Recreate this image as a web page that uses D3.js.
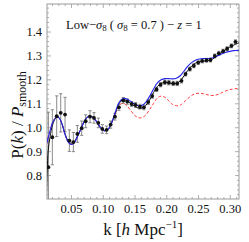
<!DOCTYPE html>
<html>
<head>
<meta charset="utf-8">
<script src="https://cdn.jsdelivr.net/npm/d3@7"></script>
<style>
body { margin: 0; background: white; }
svg { display: block; font-family: "Liberation Serif", "DejaVu Serif", serif; }
</style>
</head>
<body>
<svg id="vis" width="249" height="242"></svg>
<script>
var vis = d3.select("#vis");

// measured points (k, ratio, error)
var kData = [0.0144, 0.0206, 0.0275, 0.0338, 0.0406, 0.0474, 0.0537, 0.0600, 0.0668, 0.0731,
    0.0799, 0.0862, 0.0930, 0.0993, 0.1061, 0.1124, 0.1192, 0.1255, 0.1323, 0.1386,
    0.1454, 0.1517, 0.1585, 0.1648, 0.1716, 0.1779, 0.1847, 0.1910, 0.1978, 0.2041,
    0.2109, 0.2172, 0.2240, 0.2303, 0.2371, 0.2434, 0.2502, 0.2565, 0.2633, 0.2696,
    0.2764, 0.2827, 0.2895, 0.2958, 0.3026, 0.3089];
var pData = [0.833, 0.958, 1.046, 1.060, 1.053, 0.944, 0.938, 0.972, 0.996, 1.025,
    1.044, 1.039, 1.018, 0.993, 0.989, 1.011, 1.044, 1.083, 1.112, 1.107,
    1.097, 1.093, 1.086, 1.083, 1.105, 1.130, 1.158, 1.178, 1.188, 1.186,
    1.183, 1.183, 1.194, 1.222, 1.243, 1.257, 1.270, 1.277, 1.280, 1.281,
    1.298, 1.309, 1.318, 1.328, 1.340, 1.357];
var errData = [0.23, 0.115, 0.085, 0.08, 0.072, 0.045, 0.04, 0.035, 0.03, 0.027,
    0.025, 0.022, 0.02, 0.018, 0.016, 0.015, 0.014, 0.013, 0.012, 0.011,
    0.010, 0.010, 0.010, 0.010, 0.010, 0.009, 0.009, 0.009, 0.009, 0.009,
    0.009, 0.009, 0.009, 0.008, 0.008, 0.008, 0.008, 0.008, 0.008, 0.008,
    0.008, 0.008, 0.008, 0.008, 0.008, 0.008];

// model curves
var kBlack = [0.0112, 0.0125, 0.014, 0.017, 0.021, 0.026, 0.030, 0.035, 0.040, 0.045,
    0.050, 0.055, 0.060, 0.066, 0.072, 0.078, 0.084, 0.090, 0.096, 0.102,
    0.108, 0.114, 0.120, 0.126, 0.132, 0.138, 0.144, 0.150, 0.156, 0.162,
    0.168, 0.174, 0.180, 0.186, 0.192, 0.198, 0.204, 0.210, 0.216, 0.222,
    0.228, 0.234, 0.240, 0.246, 0.252, 0.258, 0.264, 0.270, 0.276, 0.282,
    0.288, 0.294, 0.300, 0.306, 0.312, 0.316];
var blackLine = [0.70, 0.82, 0.90, 0.96, 1.01, 1.038, 1.042, 1.02, 0.978, 0.945,
    0.933, 0.94, 0.962, 0.996, 1.03, 1.046, 1.042, 1.024, 1.0, 0.986,
    0.99, 1.018, 1.06, 1.10, 1.115, 1.11, 1.099, 1.088, 1.08, 1.08,
    1.092, 1.115, 1.145, 1.17, 1.183, 1.187, 1.185, 1.182, 1.183, 1.193,
    1.215, 1.238, 1.256, 1.268, 1.274, 1.276, 1.277, 1.281, 1.29, 1.302,
    1.314, 1.325, 1.335, 1.343, 1.35, 1.355];

var kModel = [0.0115, 0.016, 0.021, 0.026, 0.030, 0.035, 0.040, 0.045, 0.050, 0.055,
    0.060, 0.066, 0.072, 0.078, 0.084, 0.090, 0.096, 0.102, 0.108, 0.114,
    0.120, 0.126, 0.132, 0.138, 0.144, 0.150, 0.156, 0.162, 0.168, 0.174,
    0.180, 0.186, 0.192, 0.198, 0.204, 0.210, 0.216, 0.222, 0.228, 0.234,
    0.240, 0.246, 0.252, 0.258, 0.264, 0.270, 0.276, 0.282, 0.288, 0.294,
    0.300, 0.306, 0.312, 0.316];
var blueLine = [0.93, 0.975, 1.02, 1.04, 1.042, 1.02, 0.975, 0.94, 0.928, 0.935,
    0.96, 0.995, 1.03, 1.046, 1.043, 1.025, 1.0, 0.985, 0.99, 1.02,
    1.065, 1.105, 1.12, 1.118, 1.108, 1.097, 1.09, 1.092, 1.105, 1.13,
    1.16, 1.185, 1.198, 1.203, 1.203, 1.202, 1.205, 1.215, 1.235, 1.255,
    1.27, 1.28, 1.285, 1.287, 1.287, 1.288, 1.293, 1.30, 1.307, 1.313,
    1.317, 1.32, 1.321, 1.322];
var redLine = [0.93, 0.975, 1.02, 1.04, 1.042, 1.02, 0.975, 0.94, 0.928, 0.935,
    0.96, 0.995, 1.03, 1.046, 1.043, 1.025, 1.0, 0.985, 0.99, 1.018,
    1.058, 1.092, 1.10, 1.09, 1.07, 1.05, 1.04, 1.04, 1.052, 1.075,
    1.10, 1.122, 1.13, 1.125, 1.11, 1.095, 1.09, 1.092, 1.105, 1.12,
    1.133, 1.14, 1.142, 1.14, 1.136, 1.133, 1.133, 1.138, 1.145, 1.152,
    1.157, 1.16, 1.162, 1.163];

var xTicks = [0.05, 0.10, 0.15, 0.20, 0.25, 0.30];
var yTicks = [0.8, 0.9, 1.0, 1.1, 1.2, 1.3, 1.4];

// plot box (window.top is reserved, so prefix the names)
var pLeft = 47, pRight = 239, pTop = 4, pBottom = 199;
var x = d3.scaleLinear().domain([0.0122, 0.3145]).range([pLeft, pRight]);
var y = d3.scaleLinear().domain([0.70, 1.515]).range([pBottom, pTop]);

var frameColor = "#9a9a9a";

vis.append("clipPath").attr("id", "plotclip")
    .append("rect")
    .attr("x", pLeft).attr("y", pTop)
    .attr("width", pRight - pLeft).attr("height", pBottom - pTop);

// minor ticks every 0.01 / 0.02
var xMinor = d3.range(0.02, 0.315, 0.01).filter(v => xTicks.every(t => Math.abs(t - v) > 1e-6));
var yMinor = d3.range(0.72, 1.515, 0.02).filter(v => yTicks.every(t => Math.abs(t - v) > 1e-6));

// frame axes, ticks pointing in
var axB = vis.append("g").attr("transform", `translate(0 ${pBottom})`)
    .call(d3.axisBottom(x).tickValues(xTicks).tickFormat(d3.format(".2f")).tickSizeInner(-4).tickSizeOuter(0).tickPadding(5));
axB.append("g").call(d3.axisBottom(x).tickValues(xMinor).tickFormat("").tickSizeInner(-2).tickSizeOuter(0));
var axT = vis.append("g").attr("transform", `translate(0 ${pTop})`)
    .call(d3.axisTop(x).tickValues(xTicks).tickFormat("").tickSizeInner(-4).tickSizeOuter(0));
axT.append("g").call(d3.axisTop(x).tickValues(xMinor).tickFormat("").tickSizeInner(-2).tickSizeOuter(0));
var axL = vis.append("g").attr("transform", `translate(${pLeft} 0)`)
    .call(d3.axisLeft(y).tickValues(yTicks).tickFormat(d3.format(".1f")).tickSizeInner(-4).tickSizeOuter(0).tickPadding(5));
axL.append("g").call(d3.axisLeft(y).tickValues(yMinor).tickFormat("").tickSizeInner(-2).tickSizeOuter(0));
var axR = vis.append("g").attr("transform", `translate(${pRight} 0)`)
    .call(d3.axisRight(y).tickValues(yTicks).tickFormat("").tickSizeInner(-4).tickSizeOuter(0));
axR.append("g").call(d3.axisRight(y).tickValues(yMinor).tickFormat("").tickSizeInner(-2).tickSizeOuter(0));

vis.selectAll(".domain").remove();
vis.selectAll(".tick line").attr("stroke", frameColor).attr("stroke-width", 0.8);
vis.selectAll(".tick text")
    .attr("fill", "#111")
    .attr("font-size", "12.5px")
    .attr("font-family", "Liberation Serif, serif");

vis.append("rect")
    .attr("x", pLeft).attr("y", pTop)
    .attr("width", pRight - pLeft).attr("height", pBottom - pTop)
    .attr("fill", "none")
    .attr("stroke", frameColor)
    .attr("stroke-width", 1);

var plot = vis.append("g").attr("clip-path", "url(#plotclip)");

function curve(ks, vs) {
    return d3.line()
        .x((d, i) => x(ks[i]))
        .y(d => y(d))
        .curve(d3.curveCatmullRom)(vs);
}

// error bars
var pts = kData.map((k, i) => ({ k: k, v: pData[i], e: errData[i] }));
var bars = plot.selectAll(".err").data(pts).enter().append("g").attr("class", "err")
    .attr("stroke", "#7d7d7d").attr("stroke-width", 0.9);
bars.append("line")
    .attr("x1", d => x(d.k)).attr("x2", d => x(d.k))
    .attr("y1", d => y(d.v - d.e)).attr("y2", d => y(d.v + d.e));
bars.append("line")
    .attr("x1", d => x(d.k) - 1.6).attr("x2", d => x(d.k) + 1.6)
    .attr("y1", d => y(d.v - d.e)).attr("y2", d => y(d.v - d.e));
bars.append("line")
    .attr("x1", d => x(d.k) - 1.6).attr("x2", d => x(d.k) + 1.6)
    .attr("y1", d => y(d.v + d.e)).attr("y2", d => y(d.v + d.e));

plot.append("path")
    .attr("d", curve(kModel, redLine))
    .attr("fill", "none")
    .attr("stroke", "#ff2a2a")
    .attr("stroke-width", 0.9)
    .attr("stroke-dasharray", "3,2");

plot.append("path")
    .attr("d", curve(kBlack, blackLine))
    .attr("fill", "none")
    .attr("stroke", "#111")
    .attr("stroke-width", 1);

plot.append("path")
    .attr("d", curve(kModel, blueLine))
    .attr("fill", "none")
    .attr("stroke", "#2626e8")
    .attr("stroke-width", 1.1);

plot.selectAll(".pt").data(pts).enter().append("circle")
    .attr("class", "pt")
    .attr("cx", d => x(d.k))
    .attr("cy", d => y(d.v))
    .attr("r", 1.9)
    .attr("fill", "#111");

// annotation
var title = vis.append("text")
    .attr("x", 66).attr("y", 29)
    .attr("font-size", "12.5px")
    .attr("fill", "#111");
title.append("tspan").text("Low\u2212");
title.append("tspan").attr("font-style", "italic").text("\u03c3");
title.append("tspan").attr("font-size", "9px").attr("dy", 2).text("8");
title.append("tspan").attr("dy", -2).text(" ( ");
title.append("tspan").attr("font-style", "italic").text("\u03c3");
title.append("tspan").attr("font-size", "9px").attr("dy", 2).text("8");
title.append("tspan").attr("dy", -2).text(" = 0.7 ) \u2212 ");
title.append("tspan").attr("font-style", "italic").text("z");
title.append("tspan").text(" = 1");

// axis labels
var xl = vis.append("text")
    .attr("x", (pLeft + pRight) / 2).attr("y", 235)
    .attr("text-anchor", "middle")
    .attr("font-size", "17px")
    .attr("fill", "#111");
xl.append("tspan").text("k [");
xl.append("tspan").attr("font-style", "italic").text("h");
xl.append("tspan").text(" Mpc");
xl.append("tspan").attr("font-size", "11px").attr("dy", -7).text("\u22121");
xl.append("tspan").attr("dy", 7).text("]");

var yl = vis.append("text")
    .attr("transform", "translate(23 115) rotate(-90)")
    .attr("text-anchor", "middle")
    .attr("font-size", "17px")
    .attr("fill", "#111");
yl.append("tspan").text("P(");
yl.append("tspan").attr("font-style", "italic").text("k");
yl.append("tspan").text(") / ");
yl.append("tspan").attr("font-style", "italic").text("P");
yl.append("tspan").attr("font-size", "12px").attr("dy", 3).text("smooth");
</script>
</body>
</html>
